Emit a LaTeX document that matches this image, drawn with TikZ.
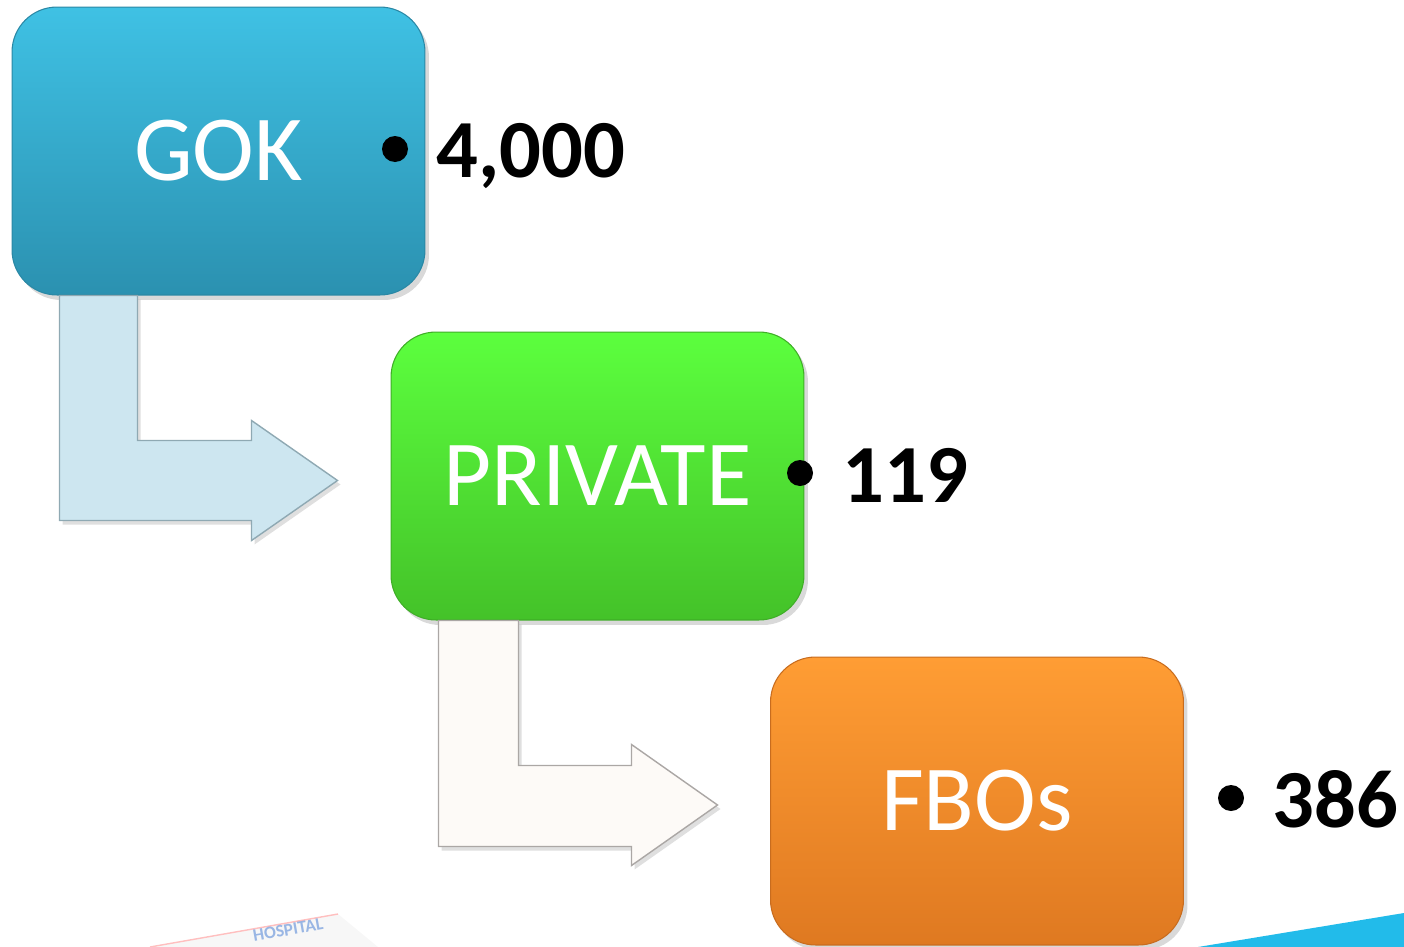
\documentclass[tikz,border=0pt]{standalone}
\usepackage{fontspec}
\setmainfont{Carlito}
\usetikzlibrary{shadows}
\definecolor{gokTop}{HTML}{3FC1E4}
\definecolor{gokBot}{HTML}{2B91B0}
\definecolor{gokLine}{HTML}{2A88A5}
\definecolor{priTop}{HTML}{5CFF3E}
\definecolor{priBot}{HTML}{44C229}
\definecolor{priLine}{HTML}{3FAE27}
\definecolor{fboTop}{HTML}{FF9D34}
\definecolor{fboBot}{HTML}{DF7921}
\definecolor{fboLine}{HTML}{C86C1E}
\definecolor{arrBlue}{HTML}{CDE6F0}
\definecolor{arrBlueLine}{HTML}{8FA9B3}
\definecolor{arrWhite}{HTML}{FDFAF7}
\definecolor{arrWhiteLine}{HTML}{ABA7A5}
\definecolor{cardText}{HTML}{5B8BD8}
\definecolor{cornerBlue}{HTML}{22BBEA}
\begin{document}
\begin{tikzpicture}[x=0.02cm,y=-0.02cm,
	box/.style={rounded corners=0.9cm,minimum width=8.26cm,minimum height=5.76cm,text=white,
		font=\fontsize{53}{60}\selectfont,line width=0.6pt,
		drop shadow={opacity=0.3,shadow xshift=0.8mm,shadow yshift=-1mm}},
	bent/.style={line width=0.8pt,line join=miter,drop shadow={opacity=0.25,shadow xshift=0.6mm,shadow yshift=-0.8mm}},
	dot/.style={circle,fill=black,inner sep=0pt,minimum size=0.52cm},
	num/.style={anchor=base west,inner sep=0pt,font=\bfseries\fontsize{47}{56}\selectfont}]
	\useasboundingbox (0,0) rectangle (1404,947);
	\clip (0,0) rectangle (1404,947);
	% hospital card, bottom left
	\fill[gray!6] (150,947) -- (338,914) -- (378,947) -- cycle;
	\draw[red!25,line width=0.8pt] (150,947) -- (338,914);
	\node[rotate=10,text=cardText,opacity=0.6,inner sep=0pt,font=\bfseries\fontsize{10}{11}\selectfont] (card) at (288,930) {HOSPITAL};
	% corner band, bottom right
	\fill[cornerBlue] (1198,947) -- (1404,913) -- (1404,947) -- cycle;
	% boxes
	\node[box,top color=gokTop,bottom color=gokBot,draw=gokLine] (gok) at (218.5,151) {GOK};
	\node[box,top color=priTop,bottom color=priBot,draw=priLine] (private) at (597.5,476) {PRIVATE};
	\node[box,top color=fboTop,bottom color=fboBot,draw=fboLine] (fbos) at (977,801) {FBOs};
	% bent arrows
	\path (gok.south west) ++(48,0) coordinate (b1);
	\draw[bent,fill=arrBlue,draw=arrBlueLine] (b1) -- ++(78,0) -- ++(0,145) -- ++(114,0) -- ++(0,-20)
		-- ++(86,60) -- ++(-86,60) -- ++(0,-20) -- ++(-192,0) -- cycle;
	\path (private.south west) ++(48,0) coordinate (b2);
	\draw[bent,fill=arrWhite,draw=arrWhiteLine] (b2) -- ++(80,0) -- ++(0,145) -- ++(113,0) -- ++(0,-21)
		-- ++(86,60.5) -- ++(-86,60.5) -- ++(0,-19) -- ++(-193,0) -- cycle;
	% bullets
	\node[dot] (d1) at (395,149) {};
	\node[num] (n1) at (436,177) {4,000};
	\node[dot] (d2) at (800,473) {};
	\node[num] (n2) at (842,502) {119};
	\node[dot] (d3) at (1231,798) {};
	\node[num] (n3) at (1272,827) {386};
\end{tikzpicture}
\end{document}
